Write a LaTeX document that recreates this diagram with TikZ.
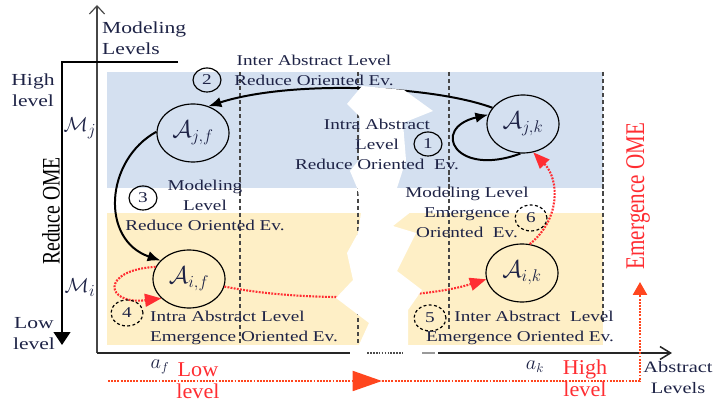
\documentclass[tikz,border=0pt]{standalone}
\usepackage{fontspec}
\usepackage{graphicx}
\setmainfont[FakeStretch=1.28]{Liberation Serif}
\newfontfamily\plainserif{Liberation Serif}
\newfontfamily\redserif[FakeStretch=1.05]{Liberation Serif}
\usetikzlibrary{shapes.geometric,arrows.meta}

\definecolor{bandblue}{RGB}{212,224,240}
\definecolor{bandyellow}{RGB}{254,239,198}
\definecolor{inktext}{RGB}{30,35,70}
\definecolor{emred}{RGB}{255,45,50}
\definecolor{emorange}{RGB}{255,70,30}
\definecolor{gridgray}{RGB}{70,70,70}

\tikzset{
  absnode/.style={ellipse, draw=black, line width=1pt, minimum width=2.16cm,
    minimum height=1.74cm, inner sep=0pt, text=inktext,
    font=\fontsize{20}{22}\selectfont},
  numsolid/.style={ellipse, draw=black, line width=1pt, minimum width=0.84cm,
    minimum height=0.72cm, inner sep=0pt, text=inktext,
    font=\fontsize{12.8}{15}\selectfont},
  numdashed/.style={numsolid, dash pattern=on 2.5pt off 2pt,
    minimum width=0.96cm, minimum height=0.78cm},
  lbl/.style={text=inktext, font=\fontsize{12.8}{17}\selectfont, inner sep=0pt},
  axislbl/.style={text=inktext, font=\fontsize{14.4}{18}\selectfont, inner sep=0pt},
  redlbl/.style={text=emred, font=\redserif\fontsize{18}{19}\selectfont, inner sep=0pt},
  mathlbl/.style={text=inktext, font=\fontsize{16}{18}\selectfont, inner sep=0pt},
  levellbl/.style={text=inktext, font=\fontsize{19}{21}\selectfont, inner sep=0pt},
  guide/.style={draw=gridgray, line width=0.9pt, dash pattern=on 3.5pt off 2.5pt},
  reduceflow/.style={draw=black, line width=1.7pt, -{Latex[length=11pt,width=9pt]}},
  emflow/.style={draw=emred, line width=1.8pt, dash pattern=on 1.6pt off 1.1pt,
    -{Triangle[length=14pt,width=11pt]}},
  bottomflow/.style={draw=emorange, line width=1.8pt, dash pattern=on 1.6pt off 1.1pt},
}

\begin{document}
\begin{tikzpicture}[x=0.03cm, y=-0.03cm]
\useasboundingbox (0,0) rectangle (715,404);

% level bands
\fill[bandblue] (107,72) rectangle (603,188);
\fill[bandyellow] (107,213) rectangle (603,345);

% abstraction level guides
\draw[guide] (240,72) -- (240,345);
\draw[guide] (358,72) -- (358,345);
\draw[guide] (449,72) -- (449,330);
\draw[guide] (603,72) -- (603,325);

% axes
\draw[gridgray, line width=1pt, -{Straight Barb[length=7pt,width=13pt]}] (97,353) -- (97,5);
\draw[black!85, line width=1.3pt] (97,353) -- (350,353);
\draw[black!70, line width=1.3pt, dash pattern=on 1.5pt off 1pt] (367,353) -- (403,353);
\draw[black!40, line width=1pt] (422,353) -- (435,353);
\draw[black!85, line width=1.3pt, -{Straight Barb[length=9pt,width=11pt]}] (438,353) -- (672,353);

% reduce OME arrow
\draw[black, line width=2.2pt, -{Triangle[length=11pt,width=14pt]}] (178,62) -| (62,345);

% abstractions
\node[absnode] (Ajf) at (193,133) {$\mathcal{A}_{j,f}$};
\node[absnode] (Ajk) at (523,124) {$\mathcal{A}_{j,k}$};
\node[absnode] (Aif) at (189,279) {$\mathcal{A}_{i,f}$};
\node[absnode] (Aik) at (522,273) {$\mathcal{A}_{i,k}$};

% reduce oriented evolutions
\draw[reduceflow] (Ajk.152) .. controls (430,85) and (290,80) .. (Ajf.60);
\draw[reduceflow] (Ajk.265) .. controls (455,178) and (430,128) .. (Ajk.165);
\draw[reduceflow] (Ajf.178) .. controls (105,160) and (100,240) .. (Aif.147);

% emergence oriented evolutions
\draw[emflow] (Aif.160) .. controls (100,270) and (105,305) .. (Aif.215);
\draw[emflow] (Aif.-12) .. controls (300,302) and (420,300) .. (Aik.190);
\draw[emflow] (Aik.75) .. controls (560,220) and (560,180) .. (Ajk.290);

% emergence OME path
\coordinate (lowstart) at (108,381);
\coordinate (lowmid) at (382,381);
\coordinate (corner) at (640,381);
\coordinate (emtop) at (640,282);
\draw[bottomflow, -{Triangle[length=25pt,width=17pt]}] (lowstart) -- (lowmid);
\draw[bottomflow, -{Triangle[length=11pt,width=12pt]}] (lowmid) -- (corner) -- (emtop);

% torn gap between low and high abstraction levels
\fill[white] (362,86) -- (347,104) -- (360,117) -- (359,160) -- (350,171) -- (358,190)
  -- (361,213) -- (358,233) -- (347,253) -- (353,280) -- (336,298) -- (369,323)
  -- (358,347) -- (408,347) -- (408,310) -- (422,290) -- (397,271) -- (416,233)
  -- (393,226) -- (412,211) -- (397,188) -- (406,160) -- (403,123) -- (433,111)
  -- (404,90) -- cycle;

% numbered evolutions
\node[numsolid] (n1) at (428,144) {1};
\node[numsolid] (n2) at (207,80) {2};
\node[numsolid] (n3) at (143,198) {3};
\node[numdashed] (n4) at (127,313) {4};
\node[numdashed] (n5) at (430,318) {5};
\node[numdashed] (n6) at (531,218) {6};

% evolution labels
\node[lbl, align=center] (t2) at (314,70) {Inter Abstract Level\\Reduce Oriented Ev.};
\node[lbl, align=center] (t1) at (377,144) {Intra Abstract\\Level\\Reduce Oriented\ \ Ev.};
\node[lbl, align=center] (t3) at (205,205) {Modeling\\Level\\Reduce Oriented Ev.};
\node[lbl, align=center] (t6) at (467,212) {Modeling Level\\Emergence\\Oriented\ \ Ev.};
\node[lbl, align=left, anchor=west] (t4) at (150,328) {Intra Abstract Level\\Emergence Oriented Ev.};
\node[lbl, align=right, anchor=east] (t5) at (614,328) {Inter Abstract\ \ Level\\Emergence Oriented Ev.};

% axis labels
\node[axislbl, align=left, anchor=west] (ylab) at (102,38) {Modeling\\Levels};
\node[axislbl, align=center] (hi) at (33,90) {High\\level};
\node[axislbl, align=center] (lo) at (34,334) {Low\\level};
\node[axislbl, align=center, font=\fontsize{13.6}{18}\selectfont] (xlab) at (678,378) {Abstract\\Levels};
\node[levellbl] (mj) at (80,128) {$\mathcal{M}_j$};
\node[levellbl] (mi) at (80,288) {$\mathcal{M}_i$};
\node[mathlbl] (af) at (160,367) {$a_f$};
\node[mathlbl] (ak) at (535,367) {$a_k$};

% OME directions
\node[rotate=90, text=black, inner sep=0pt] (reduceome) at (51,211)
  {\scalebox{1}[1.28]{\plainserif\fontsize{16.8}{18}\selectfont Reduce OME}};
\node[rotate=90, text=emred, inner sep=0pt] (emome) at (638,196)
  {\scalebox{1}[1.28]{\plainserif\fontsize{18}{20}\selectfont Emergence OME}};
\node[redlbl, align=center] (redlow) at (198,381) {Low\\level};
\node[redlbl, align=center] (redhigh) at (585,378) {High\\level};
\end{tikzpicture}
\end{document}
